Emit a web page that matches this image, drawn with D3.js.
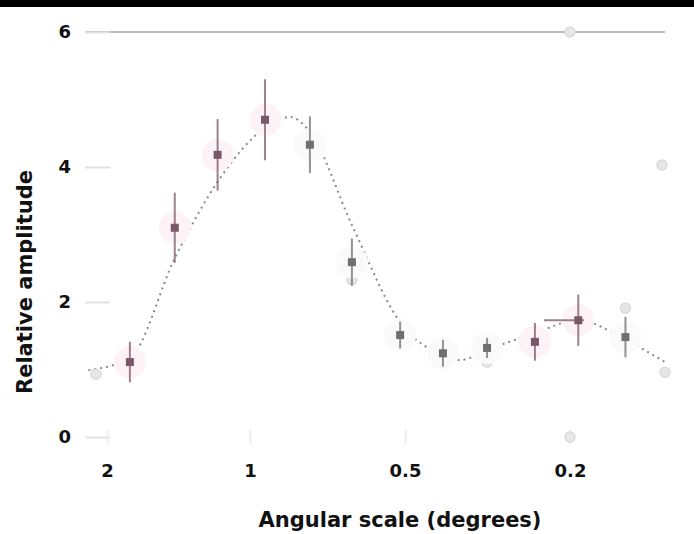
<!DOCTYPE html>
<html>
<head>
<meta charset="utf-8">
<script src="https://cdn.jsdelivr.net/npm/d3@7"></script>
<style>
    body { margin: 0; background: #fff; }
    text { font-family: "DejaVu Sans", sans-serif; }
</style>
</head>
<body>
<div id="chart"></div>
<script>
(function () {
    "use strict";

    // tick labels
    const xTicks = [2, 1, 0.5, 0.2];
    const yTicks = [0, 2, 4, 6];

    // measured points, first experiment (angular scale in degrees)
    const thetaA = [1.79, 1.44, 1.17, 0.935, 0.243, 0.191];
    const ampA = [1.11, 3.10, 4.18, 4.70, 1.41, 1.73];
    const errA = [0.30, 0.52, 0.53, 0.60, 0.28, 0.38];
    const thetaLowA = [1.79, 1.44, 1.17, 0.935, 0.243, 0.231];
    const thetaHighA = [1.79, 1.44, 1.17, 0.935, 0.243, 0.185];

    // second experiment
    const thetaB = [0.765, 0.634, 0.511, 0.405, 0.317, 0.147];
    const ampB = [4.33, 2.59, 1.51, 1.24, 1.32, 1.48];
    const errB = [0.42, 0.35, 0.20, 0.20, 0.15, 0.30];

    // faint points
    const thetaC = [2.11, 0.634, 0.317, 0.147, 0.118, 0.2, 0.2, 0.12];
    const ampC = [0.93, 2.33, 1.11, 1.91, 0.96, 0.0, 6.0, 4.03];

    // model curve
    const thetaModel = [2.19, 1.79, 1.44, 1.17, 0.935, 0.836, 0.765, 0.634,
        0.511, 0.405, 0.368, 0.317, 0.243, 0.191, 0.147, 0.118];
    const ampModel = [0.99, 1.17, 2.65, 3.78, 4.58, 4.74, 4.52, 3.14,
        1.70, 1.21, 1.14, 1.29, 1.54, 1.73, 1.44, 1.11];

    const width = 694, height = 534;

    let svg = d3.select("#chart").append("svg")
        .attr("width", width).attr("height", height);

    svg.append("rect").attr("x", 0).attr("y", 0)
        .attr("width", width).attr("height", 7).attr("fill", "#000");

    let x = d3.scaleLog()
        .domain(xTicks)
        .range([107, 250, 405, 570]);

    let y = d3.scaleLinear()
        .domain([0, 6])
        .range([437, 32]);

    // top reference line
    svg.append("line")
        .attr("x1", 85).attr("x2", 665)
        .attr("y1", y(6)).attr("y2", y(6))
        .attr("stroke", "#bbb").attr("stroke-width", 2);

    let yAxis = svg.append("g")
        .attr("transform", "translate(85,0)")
        .call(d3.axisLeft(y).tickValues(yTicks).tickFormat(d3.format("d"))
            .tickSize(-25).tickPadding(14));
    yAxis.select(".domain").remove();
    yAxis.selectAll(".tick line").attr("stroke", "#e2e2e2").attr("stroke-width", 2);
    yAxis.selectAll(".tick text")
        .attr("font-size", 18).attr("font-weight", "bold").attr("fill", "#111");

    let xAxis = svg.append("g")
        .attr("transform", "translate(0," + 430 + ")")
        .call(d3.axisBottom(x).tickValues(xTicks).tickFormat(d => d).tickSize(14).tickPadding(20));
    xAxis.select(".domain").remove();
    xAxis.selectAll(".tick line").attr("stroke", "#eee").attr("stroke-width", 2);
    xAxis.selectAll(".tick text")
        .attr("font-size", 18).attr("font-weight", "bold").attr("fill", "#111");

    // model
    let line = d3.line()
        .x((d, i) => x(d))
        .y((d, i) => y(ampModel[i]))
        .curve(d3.curveMonotoneX);

    svg.append("path")
        .attr("d", line(thetaModel))
        .attr("fill", "none")
        .attr("stroke", "#8a8a8a")
        .attr("stroke-width", 2)
        .attr("stroke-dasharray", "2,4");

    // faint points
    svg.selectAll("circle.faint")
        .data(thetaC)
        .enter().append("circle")
        .attr("class", "faint")
        .attr("cx", d => x(d))
        .attr("cy", (d, i) => y(ampC[i]))
        .attr("r", 5)
        .attr("fill", "#e6e6e6")
        .attr("stroke", "#dadada")
        .attr("stroke-width", 1.5);

    let drawSeries = (thetas, amps, errs, color, halo) => {
        let g = svg.append("g");

        g.selectAll("circle.halo")
            .data(thetas)
            .enter().append("circle")
            .attr("class", "halo")
            .attr("cx", d => x(d))
            .attr("cy", (d, i) => y(amps[i]))
            .attr("r", 16)
            .attr("fill", halo);

        g.selectAll("line.err")
            .data(thetas)
            .enter().append("line")
            .attr("class", "err")
            .attr("x1", d => x(d)).attr("x2", d => x(d))
            .attr("y1", (d, i) => y(amps[i] + errs[i]))
            .attr("y2", (d, i) => y(amps[i] - errs[i]))
            .attr("stroke", color)
            .attr("stroke-opacity", 0.75)
            .attr("stroke-width", 2);

        g.selectAll("rect.pt")
            .data(thetas)
            .enter().append("rect")
            .attr("class", "pt")
            .attr("x", d => x(d) - 4)
            .attr("y", (d, i) => y(amps[i]) - 4)
            .attr("width", 8).attr("height", 8)
            .attr("fill", color);

        return g;
    };

    let gA = drawSeries(thetaA, ampA, errA, "#7a5868", "#fdf3f6");

    // horizontal bars
    gA.selectAll("line.xerr")
        .data(thetaA)
        .enter().append("line")
        .attr("class", "xerr")
        .attr("x1", (d, i) => x(thetaLowA[i]))
        .attr("x2", (d, i) => x(thetaHighA[i]))
        .attr("y1", (d, i) => y(ampA[i]))
        .attr("y2", (d, i) => y(ampA[i]))
        .attr("stroke", "#7a5868")
        .attr("stroke-opacity", 0.75)
        .attr("stroke-width", 2);

    drawSeries(thetaB, ampB, errB, "#6f6f6f", "#fafafa");

    // axis titles
    svg.append("text")
        .attr("x", 400).attr("y", 527)
        .attr("text-anchor", "middle")
        .attr("font-size", 21).attr("font-weight", "bold").attr("fill", "#111")
        .text("Angular scale (degrees)");

    svg.append("text")
        .attr("transform", "translate(32,282) rotate(-90)")
        .attr("text-anchor", "middle")
        .attr("font-size", 21).attr("font-weight", "bold").attr("fill", "#111")
        .text("Relative amplitude");
})();
</script>
</body>
</html>
